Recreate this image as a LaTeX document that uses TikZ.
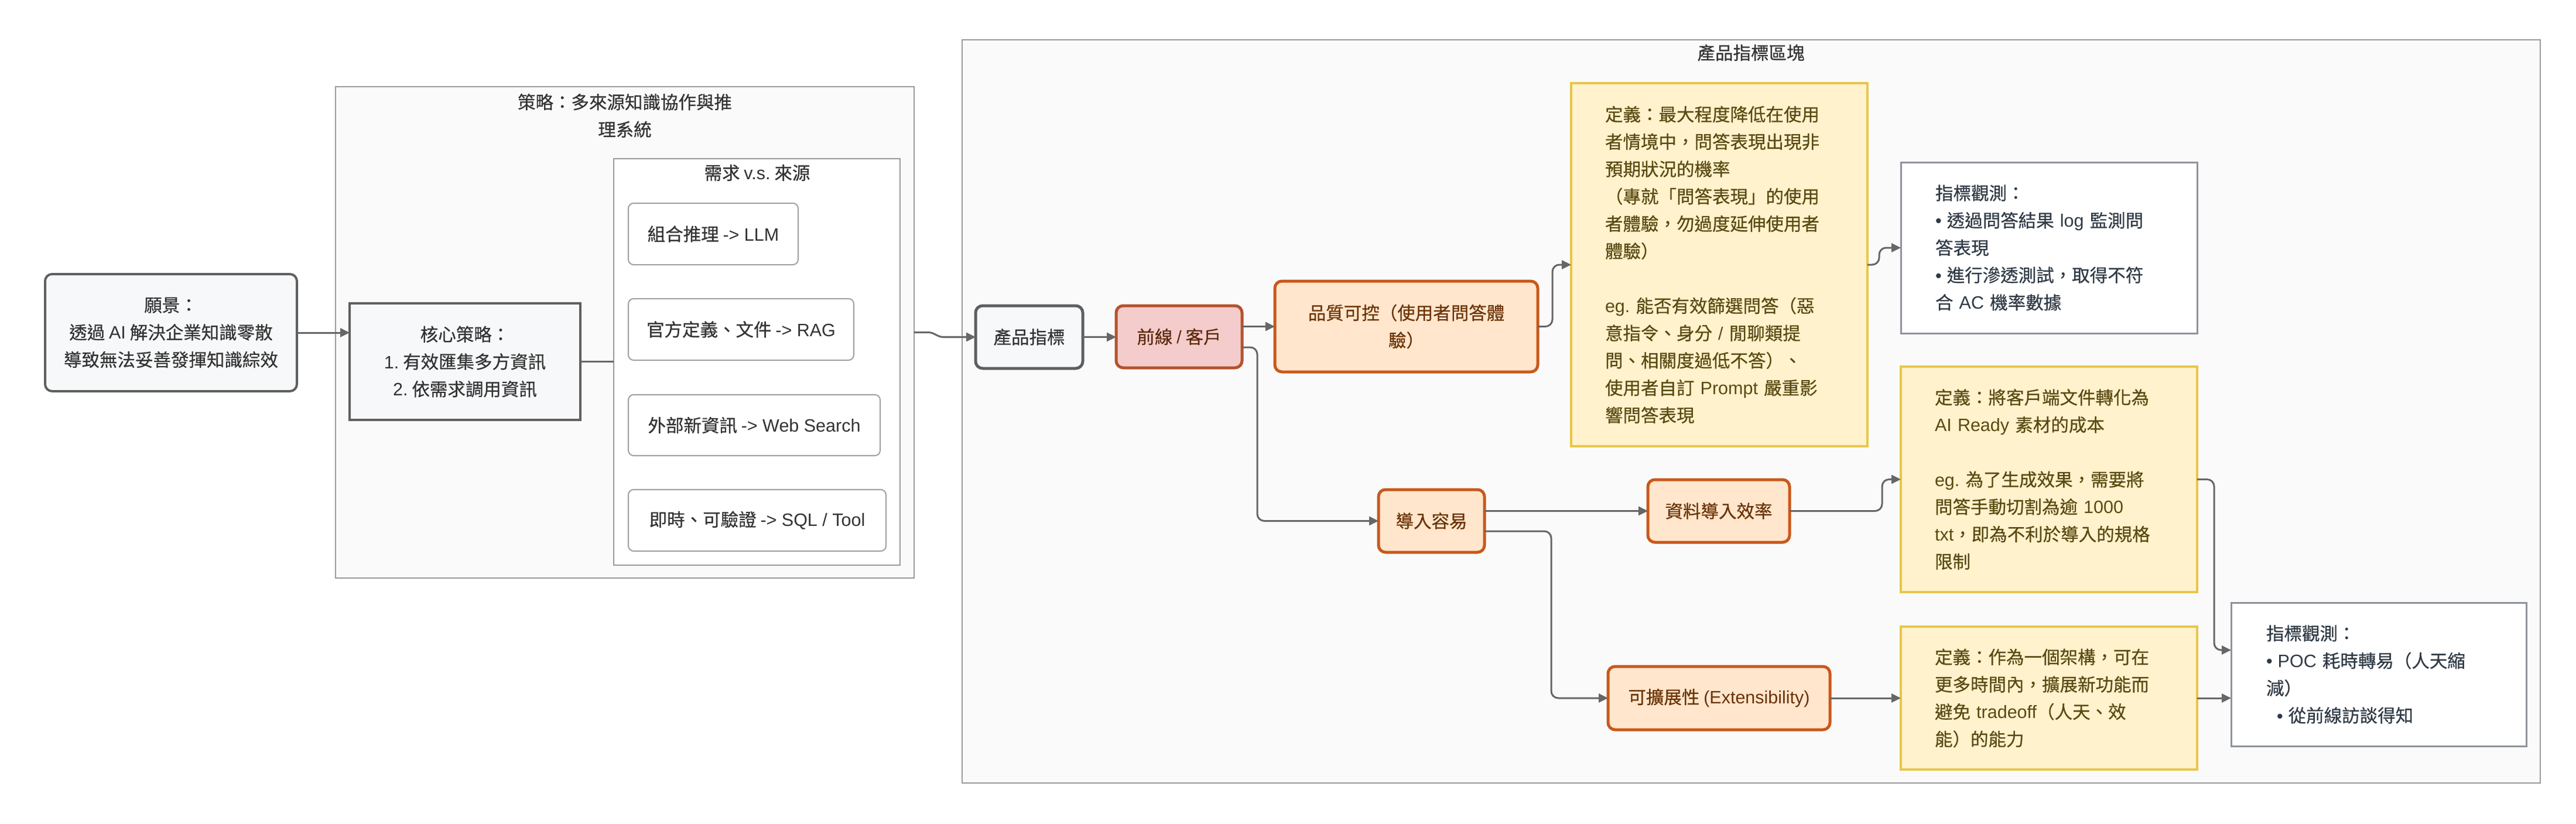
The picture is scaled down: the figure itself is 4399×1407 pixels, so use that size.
\documentclass[tikz,border=0pt]{standalone}
\usepackage{fontspec}
\setmainfont{Noto Sans CJK TC}[RawFeature={embolden=0.5}]
\newfontfamily\latf{Liberation Sans}
\newcommand{\la}[1]{{\latf #1}}
\frenchspacing
\usetikzlibrary{arrows.meta,calc}
\definecolor{edgegray}{HTML}{666666}
\definecolor{clusfill}{HTML}{FAFAFA}
\definecolor{clusline}{HTML}{9A9A9A}
\definecolor{txtdark}{HTML}{333333}
\definecolor{visfill}{HTML}{F7F8FA}
\definecolor{visline}{HTML}{5F5F5F}
\definecolor{itemline}{HTML}{A0A0A0}
\definecolor{frontfill}{HTML}{F4CCCC}
\definecolor{frontline}{HTML}{B4532E}
\definecolor{fronttxt}{HTML}{5E2A0C}
\definecolor{orgfill}{HTML}{FFE6CC}
\definecolor{orgline}{HTML}{C9581B}
\definecolor{orgtxt}{HTML}{6B3306}
\definecolor{yelfill}{HTML}{FFF2CC}
\definecolor{yelline}{HTML}{E8C64A}
\definecolor{yeltxt}{HTML}{5A4A12}
\definecolor{obsline}{HTML}{8E939B}
\definecolor{obstxt}{HTML}{2F3A45}
\newcommand{\bul}{\la{•}\hspace{9pt}}
\begin{document}
\begin{tikzpicture}[x=1pt,y=-1pt,
  every node/.style={font=\fontsize{30.5}{46.7}\selectfont, inner sep=0pt, outer sep=0pt},
  clus/.style={draw=clusline, fill=clusfill, line width=2pt, rectangle},
  ctitle/.style={text=txtdark, align=center},
  visbox/.style={draw=visline, fill=visfill, line width=4pt, rounded corners=12pt, text=txtdark, align=center},
  corebox/.style={draw=visline, fill=visfill, line width=4pt, text=txtdark, align=center},
  itembox/.style={draw=itemline, fill=white, line width=2pt, rounded corners=9pt, text=txtdark, align=center},
  prodbox/.style={draw=visline, fill=visfill, line width=5pt, rounded corners=12pt, text=txtdark, align=center},
  frontbox/.style={draw=frontline, fill=frontfill, line width=5pt, rounded corners=12pt, text=fronttxt, align=center},
  orgbox/.style={draw=orgline, fill=orgfill, line width=5pt, rounded corners=12pt, text=orgtxt, align=center},
  yelbox/.style={draw=yelline, fill=yelfill, line width=4pt, text=yeltxt, align=left, inner xsep=58pt},
  obsbox/.style={draw=obsline, fill=white, line width=3pt, text=obstxt, align=left, inner xsep=59pt},
  arr/.style={draw=edgegray, line width=3pt, -{Triangle[length=16pt,width=15pt]}},
  plainln/.style={draw=edgegray, line width=3pt},
  rc/.style={rounded corners=12pt}
]
\useasboundingbox[fill=white] (0,0) rectangle (4399,1407);

% clusters
\node[clus, minimum width=988pt, minimum height=839pt] (strat) at (1067,567.5) {};
\node[ctitle] (strattitle) at (1067,197.5) {策略：多來源知識協作與推\\理系統};
\node[clus, fill=white, minimum width=489pt, minimum height=694pt] (inner) at (1292.5,618) {};
\node[ctitle] (innertitle) at (1293,295) {需求 \la{v.s.} 來源};
\node[clus, minimum width=2695pt, minimum height=1269pt] (prodclus) at (2990.5,702.5) {};
\node[ctitle] (prodtitle) at (2990,90) {產品指標區塊};

% left part
\node[visbox, minimum width=430pt, minimum height=200pt] (vision) at (292,568) {願景：\\透過 \la{AI} 解決企業知識零散\\導致無法妥善發揮知識綜效};
\node[corebox, minimum width=394pt, minimum height=199pt] (core) at (794,617.5) {核心策略：\\\la{1.} 有效匯集多方資訊\\\la{2.} 依需求調用資訊};
\node[itembox, minimum width=290pt, minimum height=105pt] (llm) at (1218,399.5) {組合推理 \la{-> LLM}};
\node[itembox, minimum width=385pt, minimum height=105pt] (rag) at (1265.5,562.5) {官方定義、文件 \la{-> RAG}};
\node[itembox, minimum width=430pt, minimum height=104pt] (web) at (1288,726) {外部新資訊 \la{-> Web Search}};
\node[itembox, minimum width=440pt, minimum height=105pt] (sql) at (1293,888.5) {即時、可驗證 \la{-> SQL / Tool}};

% product part
\node[prodbox, minimum width=183pt, minimum height=107pt] (prod) at (1757.5,575.5) {產品指標};
\node[frontbox, minimum width=215pt, minimum height=106pt] (front) at (2013.5,575) {前線 \la{/} 客戶};
\node[orgbox, minimum width=449pt, minimum height=155pt] (qual) at (2401.5,557.5) {品質可控（使用者問答體\\驗）};
\node[orgbox, minimum width=181pt, minimum height=107pt] (easy) at (2444.5,889.5) {導入容易};
\node[orgbox, minimum width=242pt, minimum height=107pt] (data) at (2935,872.5) {資料導入效率};
\node[orgbox, minimum width=379pt, minimum height=108pt] (ext) at (2935.5,1192) {可擴展性 \la{(Extensibility)}};

\node[yelbox, text width=390pt, minimum width=506pt, minimum height=620pt] (def1) at (2936,452) {定義：最大程度降低在使用\\者情境中，問答表現出現非\\預期狀況的機率\\（專就「問答表現」的使用\\者體驗，勿過度延伸使用者\\體驗）\\[46.7pt]\la{eg.} 能否有效篩選問答（惡\\意指令、身分 \la{/} 閒聊類提\\問、相關度過低不答）、\\使用者自訂 \la{Prompt} 嚴重影\\響問答表現};
\node[obsbox, text width=388pt, minimum width=506pt, minimum height=292pt] (obs1) at (3499,423) {指標觀測：\\\bul 透過問答結果 \la{log} 監測問\\答表現\\\bul 進行滲透測試，取得不符\\合 \la{AC} 機率數據};
\node[yelbox, text width=390pt, minimum width=506pt, minimum height=385pt] (def2) at (3499,818.5) {定義：將客戶端文件轉化為\\\la{AI Ready} 素材的成本\\[46.7pt]\la{eg.} 為了生成效果，需要將\\問答手動切割為逾 \la{1000}\\\la{txt}，即為不利於導入的規格\\限制};
\node[yelbox, text width=390pt, minimum width=506pt, minimum height=244pt] (def3) at (3499,1192) {定義：作為一個架構，可在\\更多時間內，擴展新功能而\\避免 \la{tradeoff}（人天、效\\能）的能力};
\node[obsbox, inner xsep=60pt, text width=384pt, minimum width=504pt, minimum height=245pt] (obs2) at (4062,1151.5) {指標觀測：\\\bul \la{POC} 耗時轉易（人天縮\\減）\\\hspace*{18pt}\bul 從前線訪談得知};

% edges
\draw[arr] (vision.east) -- (vision.east -| core.west);
\draw[plainln] (core.east) -- (core.east -| inner.west);
\draw[arr] (strat.east) -- ++(24,0) to[out=0,in=180] ($(prod.west)+(-55,0)$) -- (prod.west);
\draw[arr] (prod.east) -- (prod.east -| front.west);
\draw[arr] (front.east |- qual.west) -- (qual.west);
\draw[arr,rc] ($(front.east)+(0,18)$) -- ++(26,0) |- (easy.west);
\draw[arr,rc] (qual.east) -- ++(25,0) |- (def1.west);
\draw[arr,rc] (def1.east) -- ++(20,0) |- (obs1.west);
\draw[arr] (easy.east |- data.west) -- (data.west);
\draw[arr,rc] ($(easy.east)+(0,17.5)$) -- ++(114,0) |- (ext.west);
\draw[arr,rc] (data.east) -- ++(158,0) |- (def2.west);
\draw[arr] (ext.east) -- (def3.west);
\draw[arr,rc] (def2.east) -- ++(29,0) |- ($(obs2.west)+(0,-41.5)$);
\draw[arr] (def3.east) -- (def3.east -| obs2.west);
\end{tikzpicture}
\end{document}
